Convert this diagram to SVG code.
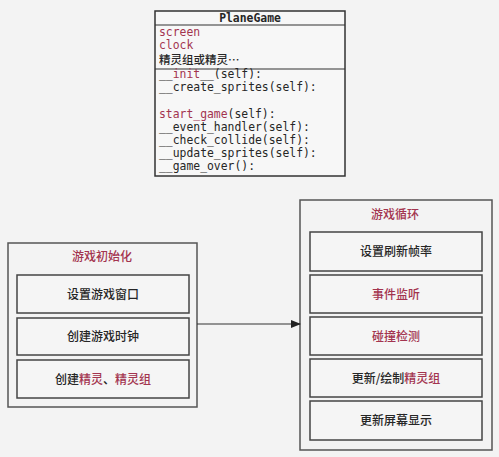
<svg xmlns="http://www.w3.org/2000/svg" width="499" height="457" viewBox="0 0 499 457">
<style>
.bg{fill:#f3f3f3}
.outer{fill:none;stroke:#555;stroke-width:1.5}
.inner{fill:#f5f5f5;stroke:#444;stroke-width:1.5}
.cls{fill:#f7f7f7;stroke:#333;stroke-width:1.5}
.sep{stroke:#333;stroke-width:1.2}
.cn{font-family:"Noto Sans CJK SC","Noto Sans",sans-serif;font-size:12px;font-weight:500;fill:#262626;text-anchor:middle}
.mono{font-family:"DejaVu Sans Mono","Liberation Mono",monospace;font-size:11.4px;fill:#262626}
.cnl{font-family:"Noto Sans CJK SC","Noto Sans",sans-serif;font-size:12px;font-weight:500;fill:#262626}
.red{fill:#a3344f}
.conn{stroke:#333;stroke-width:1.2;fill:none}
</style>
<defs>
<marker id="arr" markerWidth="10" markerHeight="8" refX="9" refY="4" orient="auto" markerUnits="userSpaceOnUse">
<path d="M0,0 L10,4 L0,8 Z" fill="#222"/>
</marker>
</defs>
<rect class="bg" x="0" y="0" width="499" height="457"/>
<g id="planegame">
<rect class="cls" x="155" y="11" width="190" height="165"/>
<line class="sep" x1="155" y1="25" x2="345" y2="25"/>
<line class="sep" x1="155" y1="69" x2="345" y2="69"/>
<text x="250" y="22" class="mono" style="font-weight:bold;text-anchor:middle">PlaneGame</text>
<text x="159" y="36" class="mono red">screen</text>
<text x="159" y="49" class="mono red">clock</text>
<text x="159" y="64" class="cnl" style="font-size:11.5px">精灵组或精灵…</text>
<text x="159" y="78" class="mono">__<tspan class="red">init</tspan>__(self):</text>
<text x="159" y="91" class="mono">__create_sprites(self):</text>
<text x="159" y="118" class="mono"><tspan class="red">start_game</tspan>(self):</text>
<text x="159" y="131" class="mono">__event_handler(self):</text>
<text x="159" y="144" class="mono">__check_collide(self):</text>
<text x="159" y="157" class="mono">__update_sprites(self):</text>
<text x="159" y="170" class="mono">__game_over():</text>
</g>
<g id="init">
<rect class="outer" x="8" y="243" width="189" height="164"/>
<text x="102" y="261" class="cn red">游戏初始化</text>
<rect class="inner" x="17" y="275" width="172" height="38"/>
<text x="103" y="299" class="cn">设置游戏窗口</text>
<rect class="inner" x="17" y="318" width="172" height="37"/>
<text x="103" y="341" class="cn">创建游戏时钟</text>
<rect class="inner" x="17" y="360" width="172" height="38"/>
<text x="103" y="384" class="cn">创建<tspan class="red">精灵</tspan>、<tspan class="red">精灵组</tspan></text>
</g>
<g id="loop">
<rect class="outer" x="300" y="200" width="192" height="250"/>
<text x="395" y="219" class="cn red">游戏循环</text>
<rect class="inner" x="310" y="232" width="172" height="39"/>
<text x="396" y="256" class="cn">设置刷新帧率</text>
<rect class="inner" x="310" y="275" width="172" height="38"/>
<text x="396" y="299" class="cn red">事件监听</text>
<rect class="inner" x="310" y="317" width="172" height="38"/>
<text x="396" y="341" class="cn red">碰撞检测</text>
<rect class="inner" x="310" y="359" width="172" height="38"/>
<text x="396" y="383" class="cn">更新/绘制<tspan class="red">精灵组</tspan></text>
<rect class="inner" x="310" y="401" width="172" height="39"/>
<text x="396" y="425" class="cn">更新屏幕显示</text>
</g>
<g id="connectors">
<line class="conn" x1="197" y1="324" x2="300" y2="324" marker-end="url(#arr)"/>
</g>
</svg>
